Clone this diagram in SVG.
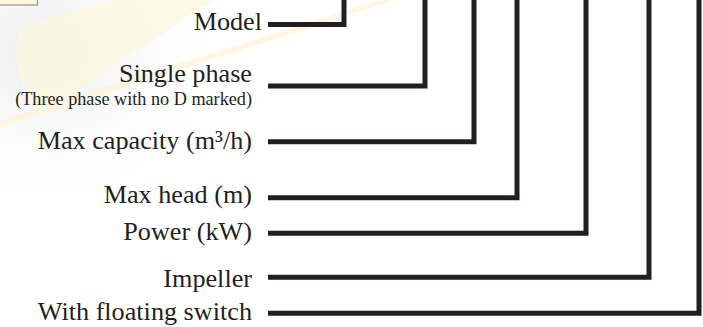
<svg xmlns="http://www.w3.org/2000/svg" width="703" height="327" viewBox="0 0 703 327">
<defs>
<style>
.lbl{font-family:"Liberation Serif","Times New Roman",serif;font-size:26.2px;fill:#231f20;text-anchor:end}
.sub{font-family:"Liberation Serif","Times New Roman",serif;font-size:18.2px;fill:#231f20;text-anchor:end}
.con{fill:none;stroke:#231f20;stroke-width:5;stroke-linejoin:miter;stroke-linecap:butt}
</style>
<radialGradient id="wm" cx="0.15" cy="0.2" r="0.6">
<stop offset="0" stop-color="#e9e9e9"/>
<stop offset="1" stop-color="#ffffff" stop-opacity="0"/>
</radialGradient>
</defs>
<rect width="703" height="327" fill="#ffffff"/>
<g id="watermark" opacity="0.85">
<rect x="0" y="0" width="300" height="260" fill="url(#wm)"/>
<path d="M20,30 C80,0 170,-10 220,-5 L40,115 C20,90 10,55 20,30 Z" fill="#fdf6dc" opacity="0.8"/>
<path d="M0,120 L380,0 L395,0 L0,128 Z" fill="#fdf3d0" opacity="0.7"/>
<rect x="-1" y="-1" width="38.5" height="6" fill="#fdf6dc" stroke="#808080" stroke-width="1.2"/>
</g>
<g id="connectors">
<path class="con" d="M268,24.5 H344 V0"/>
<path class="con" d="M268,86 H425 V0"/>
<path class="con" d="M268,141.7 H474 V0"/>
<path class="con" d="M268,197.8 H517 V0"/>
<path class="con" d="M268,233.3 H586 V0"/>
<path class="con" d="M268,277.3 H649 V0"/>
<path class="con" d="M268,313.3 H699 V0"/>
</g>
<g id="model"><text class="lbl" x="262" y="29.5">Model</text></g>
<g id="single-phase"><text class="lbl" x="252" y="81.5">Single phase</text><text class="sub" x="252" y="105">(Three phase with no D marked)</text></g>
<g id="max-capacity"><text class="lbl" x="252" y="148.5">Max capacity (m³/h)</text></g>
<g id="max-head"><text class="lbl" x="252" y="202.5">Max head (m)</text></g>
<g id="power"><text class="lbl" x="252" y="240">Power (kW)</text></g>
<g id="impeller"><text class="lbl" x="252" y="286.5">Impeller</text></g>
<g id="floating-switch"><text class="lbl" x="252" y="319.5">With floating switch</text></g>
</svg>
